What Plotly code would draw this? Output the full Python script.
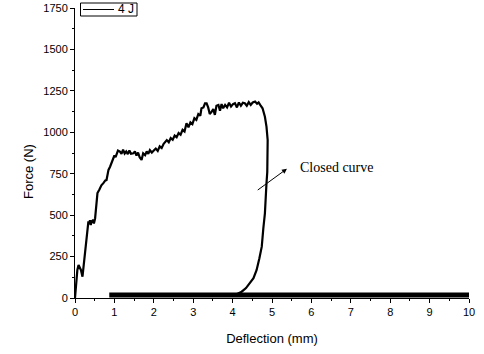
import plotly.graph_objects as go

# Loading / unloading curve (deflection mm, force N)
deflection = [0.00, 0.03, 0.06, 0.09, 0.12, 0.15, 0.19, 0.21, 0.26, 0.30, 0.34, 0.36, 0.38, 0.40,
              0.42, 0.45, 0.48, 0.51, 0.55, 0.57, 0.62, 0.67, 0.72, 0.77, 0.80, 0.85, 0.89,
              0.93, 0.97, 1.00, 1.03, 1.06, 1.09, 1.14, 1.18, 1.22, 1.26, 1.30, 1.34, 1.38,
              1.42, 1.48, 1.52, 1.56, 1.60, 1.64, 1.69, 1.73, 1.78, 1.82, 1.86, 1.90, 1.95,
              2.00, 2.05, 2.10, 2.15, 2.20, 2.25, 2.33, 2.38, 2.43, 2.48, 2.53, 2.58, 2.63,
              2.68, 2.73, 2.78, 2.83, 2.88, 2.93, 2.98, 3.03, 3.08, 3.13, 3.18, 3.21, 3.26,
              3.30, 3.34, 3.38, 3.42, 3.47, 3.51, 3.55, 3.59, 3.64, 3.68, 3.72, 3.76, 3.81,
              3.86, 3.91, 3.96, 4.01, 4.06, 4.11, 4.16, 4.21, 4.26, 4.31, 4.36, 4.41, 4.46,
              4.51, 4.57, 4.62, 4.66, 4.70, 4.76, 4.82, 4.86, 4.89, 4.89, 4.88, 4.86, 4.84,
              4.82, 4.78, 4.74, 4.68, 4.61, 4.53, 4.44, 4.34, 4.23, 4.14, 4.06]
force = [0, 120, 169, 199, 185, 169, 129, 179, 300, 400, 463, 445, 470, 440,
         462, 468, 450, 480, 560, 633, 655, 680, 693, 710, 712, 773, 792,
         814, 845, 860, 850, 875, 890, 883, 870, 895, 872, 884, 868, 890,
         870, 873, 885, 860, 878, 850, 833, 873, 862, 885, 870, 892, 878,
         890, 902, 888, 915, 905, 930, 953, 940, 965, 955, 980, 970, 995,
         985, 1015, 1005, 1054, 1030, 1060, 1050, 1085, 1075, 1110, 1100, 1145, 1150,
         1175, 1175, 1150, 1110, 1125, 1140, 1105, 1160, 1165, 1130, 1170, 1145, 1165,
         1150, 1178, 1155, 1170, 1175, 1150, 1180, 1160, 1178, 1175, 1160, 1182, 1165,
         1180, 1185, 1172, 1180, 1165, 1145, 1094, 1034, 953, 850, 760, 692, 600,
         511, 420, 310, 240, 169, 120, 89, 60, 38, 25, 18]

# Unloaded baseline band (deflection mm, force N)
baseline_x = [0.87, 10.0]
baseline_y = [18, 18]

legend_name = "4 J"
x_title = "Deflection (mm)"
y_title = "Force (N)"
annotation_text = "Closed curve"

fig = go.Figure()
fig.add_trace(go.Scatter(x=deflection, y=force, mode="lines", name=legend_name,
                         showlegend=False, line=dict(color="black", width=2.2)))
fig.add_trace(go.Scatter(x=baseline_x, y=baseline_y, mode="lines", showlegend=False,
                         line=dict(color="black", width=5)))

# Arrow pointing to the "Closed curve" label
fig.add_annotation(x=5.38, y=780, ax=4.6, ay=645, xref="x", yref="y", axref="x", ayref="y",
                   text="", showarrow=True, arrowhead=2, arrowsize=1, arrowwidth=1,
                   arrowcolor="black")
fig.add_annotation(x=5.65, y=785, xref="x", yref="y", text=annotation_text, showarrow=False,
                   xanchor="left", font=dict(family="Liberation Serif, Times New Roman, serif",
                                             size=14, color="black"))

# Legend box drawn in the figure's top-left corner
fig.add_shape(type="rect", xref="paper", yref="paper", x0=5.5 / 394, x1=62 / 394,
              y0=1 - 8 / 290, y1=1 + 5 / 290, line=dict(color="black", width=1),
              fillcolor="white", layer="above")
fig.add_shape(type="line", xref="paper", yref="paper", x0=8 / 394, x1=39 / 394,
              y0=1 - 1.5 / 290, y1=1 - 1.5 / 290, line=dict(color="black", width=1),
              layer="above")
fig.add_annotation(x=41 / 394, y=1 - 1.5 / 290, xref="paper", yref="paper", text=legend_name,
                   showarrow=False, xanchor="left", yanchor="middle",
                   font=dict(family="Arial, Liberation Sans, sans-serif", size=12, color="black"))

# Y-axis title placed as in the picture
fig.add_annotation(x=-47 / 394, y=(298 - 172) / 290, xref="paper", yref="paper", text=y_title,
                   textangle=-90, showarrow=False, xanchor="center", yanchor="middle",
                   font=dict(family="Arial, Liberation Sans, sans-serif", size=13, color="black"))

axis_font = dict(family="Arial, Liberation Sans, sans-serif", size=11, color="black")
fig.update_layout(
    width=484, height=354,
    margin=dict(l=75, r=15, t=8, b=56, autoexpand=False),
    paper_bgcolor="white", plot_bgcolor="white",
    font=axis_font,
    showlegend=False,
    xaxis=dict(range=[0, 10], dtick=1, tick0=0, showline=True, linecolor="black", linewidth=1,
               ticks="outside", ticklen=4, tickcolor="black", showgrid=False, zeroline=False,
               automargin=False,
               minor=dict(dtick=0.5, ticks="outside", ticklen=2, tickcolor="black"),
               title=dict(text=x_title, font=dict(size=13), standoff=16)),
    yaxis=dict(range=[0, 1750], dtick=250, tick0=0, showline=True, linecolor="black", linewidth=1,
               ticks="outside", ticklen=4, tickcolor="black", showgrid=False, zeroline=False,
               automargin=False,
               minor=dict(dtick=125, ticks="outside", ticklen=2, tickcolor="black")),
)

fig.write_html("out.html", config={"displayModeBar": False},
               post_script="document.body.style.margin='0px';")
